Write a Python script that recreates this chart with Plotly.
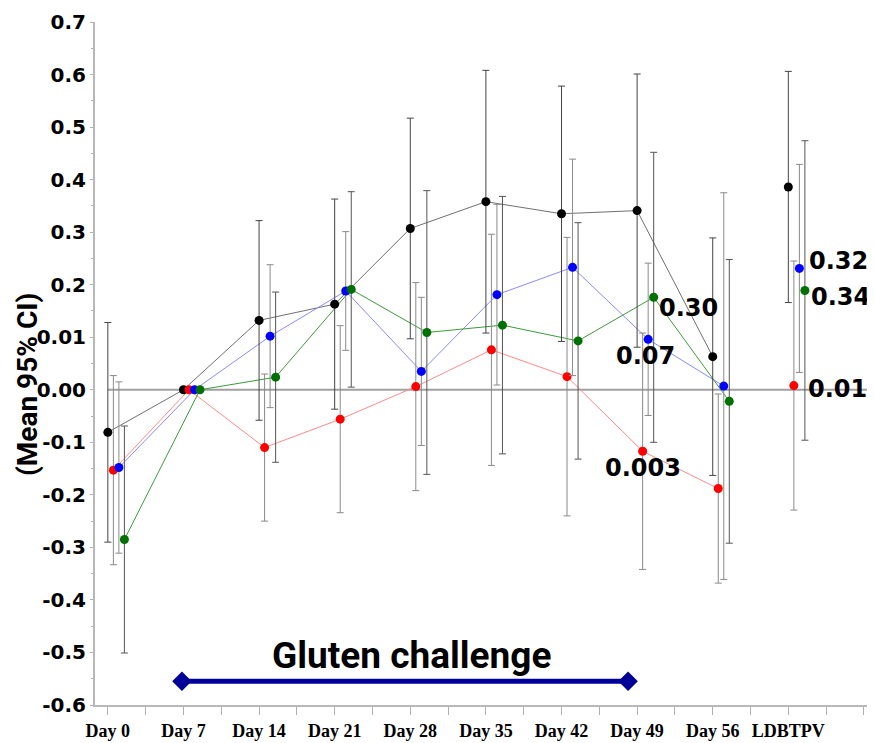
import plotly.graph_objects as go

# ---------------- data ----------------
categories = ["Day 0", "Day 7", "Day 14", "Day 21", "Day 28", "Day 35",
              "Day 42", "Day 49", "Day 56", "LDBTPV"]

black_mean = [-0.081, 0.0, 0.132, 0.163, 0.307, 0.358, 0.335, 0.341, 0.063, 0.386]
black_ci   = [0.209, 0.0, 0.190, 0.200, 0.210, 0.250, 0.243, 0.260, 0.226, 0.220]

red_mean   = [-0.153, 0.0, -0.110, -0.056, 0.006, 0.076, 0.025, -0.117, -0.188, 0.008]
red_ci     = [0.180, 0.0, 0.140, 0.178, 0.198, 0.220, 0.265, 0.225, 0.180, 0.237]

blue_mean  = [-0.148, 0.0, 0.102, 0.188, 0.035, 0.181, 0.233, 0.096, 0.007, 0.231]
blue_ci    = [0.163, 0.0, 0.136, 0.113, 0.141, 0.172, 0.206, 0.145, 0.368, 0.198]

green_mean = [-0.285, 0.0, 0.024, 0.191, 0.109, 0.123, 0.093, 0.176, -0.022, 0.189]
green_ci   = [0.216, 0.0, 0.162, 0.186, 0.270, 0.245, 0.225, 0.276, 0.270, 0.285]

y_tickvals = [0.7, 0.6, 0.5, 0.4, 0.3, 0.2, 0.1, 0.0, -0.1, -0.2, -0.3, -0.4, -0.5, -0.6]
y_ticktext = ["0.7", "0.6", "0.5", "0.4", "0.3", "0.2", "0.01", "0.00",
              "-0.1", "-0.2", "-0.3", "-0.4", "-0.5", "-0.6"]

p_labels = ["0.30", "0.07", "0.003", "0.32", "0.34", "0.01"]
y_title = "(Mean 95% CI)"
challenge_label = "Gluten challenge"

# ---------------- styles ----------------
series = [
    # mean, ci, marker colour, line colour, errorbar colour
    (black_mean, black_ci, "#000000", "#707070", "#444444"),
    (red_mean, red_ci, "#ff0000", "#ff8a8a", "#8a8a8a"),
    (blue_mean, blue_ci, "#0000ff", "#8a8aff", "#8a8a8a"),
    (green_mean, green_ci, "#007000", "#3c9a3c", "#555555"),
]
offset_step = 0.073
n_connected = 9  # LDBTPV is not joined to the time course

fig = go.Figure()

fig.add_shape(type="line", xref="x", yref="y", x0=0, x1=10.08, y0=0, y1=0,
              line=dict(color="#a0a0a0", width=2), layer="below")

base_x = list(range(len(categories)))
for k, (mean, ci, mcol, lcol, ecol) in enumerate(series):
    xs = [b + k * offset_step for b in base_x]
    fig.add_trace(go.Scatter(
        x=xs[:n_connected], y=mean[:n_connected], mode="lines",
        line=dict(color=lcol, width=1), hoverinfo="skip", showlegend=False))
for k, (mean, ci, mcol, lcol, ecol) in enumerate(series):
    xs = [b + k * offset_step for b in base_x]
    fig.add_trace(go.Scatter(
        x=xs, y=mean, mode="markers",
        marker=dict(color=mcol, size=9, symbol="circle"),
        error_y=dict(type="data", array=ci, symmetric=True, color=ecol,
                     thickness=1, width=3.5),
        showlegend=False))

# Gluten challenge bar
fig.add_trace(go.Scatter(
    x=[0.98, 6.88], y=[-0.555, -0.555], mode="lines+markers",
    line=dict(color="#000099", width=5),
    marker=dict(symbol="diamond", size=15, color="#000099"),
    showlegend=False, hoverinfo="skip"))

fig.add_annotation(x=4.012, y=-0.505, xref="x", yref="y", text=challenge_label,
                   showarrow=False, xanchor="center", yanchor="middle",
                   font=dict(family="Roboto", size=37, color="#000000", weight="bold"))

# p-value labels
p_pos = [(7.676, 0.155), (7.114, 0.064), (7.074, -0.148),
         (9.667, 0.246), (9.687, 0.176), (9.647, 0.001)]
for lab, (px, py) in zip(p_labels, p_pos):
    fig.add_annotation(x=px, y=py, xref="x", yref="y", text=lab, showarrow=False,
                       xanchor="center", yanchor="middle",
                       font=dict(family="DejaVu Sans", size=24, color="#000000",
                                 weight="bold"))

# y-axis title
fig.add_annotation(x=-0.0865, y=0.47, xref="paper", yref="paper", text=y_title,
                   textangle=-90, showarrow=False, xanchor="center", yanchor="middle",
                   font=dict(family="Roboto", size=28, color="#000000", weight="bold"))

# the page body adds an 8px margin, so the figure is drawn 8px smaller
fig.update_layout(
    width=867, height=735,
    margin=dict(l=87, r=5, t=14, b=38),
    plot_bgcolor="white", paper_bgcolor="white",
    showlegend=False,
    xaxis=dict(
        range=[-0.17, 10.08], tickvals=base_x, ticktext=categories,
        automargin=False,
        showgrid=False, zeroline=False, showline=True, linecolor="#b8b8b8",
        linewidth=2, ticks="outside", ticklen=8, tickcolor="#b0b0b0", tickwidth=1,
        minor=dict(ticks="outside", tick0=0, dtick=0.5, ticklen=8,
                   tickcolor="#b0b0b0", tickwidth=1),
        tickfont=dict(family="Liberation Serif", size=18, color="#000000",
                      weight="bold"),
    ),
    yaxis=dict(
        range=[-0.6, 0.7], tickvals=y_tickvals, ticktext=y_ticktext,
        automargin=False,
        showgrid=False, zeroline=False, showline=True, linecolor="#b8b8b8",
        linewidth=2, ticks="outside", ticklen=3, tickcolor="#b0b0b0",
        minor=dict(ticks="outside", tick0=0, dtick=0.05, ticklen=2,
                   tickcolor="#b0b0b0"),
        tickfont=dict(family="DejaVu Sans", size=20, color="#000000", weight="bold"),
    ),
)

fig.write_html("out.html")
